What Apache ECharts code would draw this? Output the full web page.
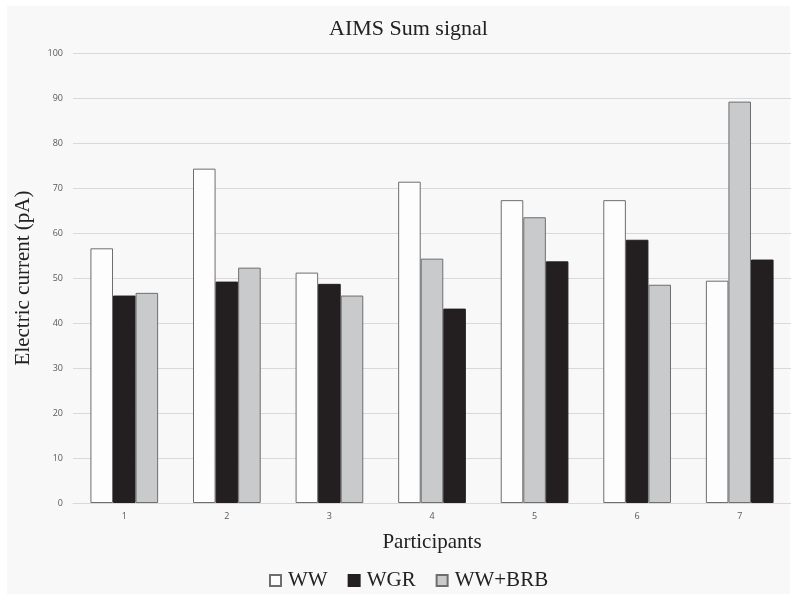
<!DOCTYPE html>
<html>
<head>
<meta charset="utf-8">
<script src="https://cdn.jsdelivr.net/npm/echarts@6/dist/echarts.min.js"></script>
<style>html,body{margin:0;padding:0;background:#fff}#c{width:791px;height:595px}</style>
</head>
<body>
<div id="c"></div>
<script>
var categories = ['1', '2', '3', '4', '5', '6', '7'];
var seriesNames = ['WW', 'WGR', 'WW+BRB'];
var ww    = [56.6, 74.3, 51.2, 71.4, 67.3, 67.3, 49.4];
var wgr   = [46.1, 49.2, 48.7, 43.2, 53.7, 58.5, 54.1];
var wwbrb = [46.7, 52.3, 46.1, 54.3, 63.5, 48.5, 89.2];
// which treatment occupies each bar slot (left, middle, right) per participant
var slotOrder = [[0,1,2],[0,1,2],[0,1,2],[0,2,1],[0,2,1],[0,1,2],[0,2,1]];
var yTicks = [0, 100, 10];

var values = [ww, wgr, wwbrb];
var colors = ['#fdfdfd', '#231f20', '#c9cacb'];
var borders = ['#6e6e6e', '#231f20', '#6e6e6e'];

var series = [0,1,2].map(function (slot) {
  return {
    name: seriesNames[slot],
    type: 'bar',
    barGap: '0%',
    barCategoryGap: '34%',
    itemStyle: { color: colors[slot], borderColor: borders[slot], borderWidth: 1 },
    data: categories.map(function (c, i) {
      var t = slotOrder[i][slot];
      return { value: values[t][i], itemStyle: { color: colors[t], borderColor: borders[t] } };
    })
  };
});

var chart = echarts.init(document.getElementById('c'));
chart.setOption({
  backgroundColor: '#ffffff',
  animation: false,
  graphic: [{
    type: 'rect', z: -100, silent: true,
    shape: { x: 7, y: 6, width: 783, height: 588 },
    style: { fill: '#f8f8f8' }
  }],
  title: {
    text: 'AIMS Sum signal',
    left: 324, top: 13,
    textStyle: { fontFamily: 'Liberation Serif', fontSize: 22, fontWeight: 'normal', color: '#222' }
  },
  legend: {
    data: seriesNames,
    left: 264, top: 565,
    itemWidth: 11, itemHeight: 11, itemGap: 20,
    icon: 'rect',
    textStyle: { fontFamily: 'Liberation Serif', fontSize: 21, color: '#222', padding: [0,0,0,2] }
  },
  grid: { left: 73, right: 0, top: 53, bottom: 92 },
  xAxis: {
    type: 'category',
    data: categories,
    name: 'Participants',
    nameLocation: 'middle',
    nameGap: 29,
    nameTextStyle: { fontFamily: 'Liberation Serif', fontSize: 21, color: '#222' },
    axisLine: { lineStyle: { color: '#d9d9d9', width: 1 } },
    axisTick: { show: false },
    axisLabel: { fontFamily: 'Open Sans', fontSize: 9, color: '#595959', margin: 9 }
  },
  yAxis: {
    type: 'value',
    min: yTicks[0], max: yTicks[1], interval: yTicks[2],
    name: 'Electric current (pA)',
    nameLocation: 'middle',
    nameGap: 39,
    nameTextStyle: { fontFamily: 'Liberation Serif', fontSize: 21, color: '#222' },
    axisLine: { show: false },
    axisTick: { show: false },
    splitLine: { lineStyle: { color: '#d9d9d9', width: 1 } },
    axisLabel: { fontFamily: 'Open Sans', fontSize: 9, color: '#595959', margin: 10 }
  },
  series: series
});
</script>
</body>
</html>
